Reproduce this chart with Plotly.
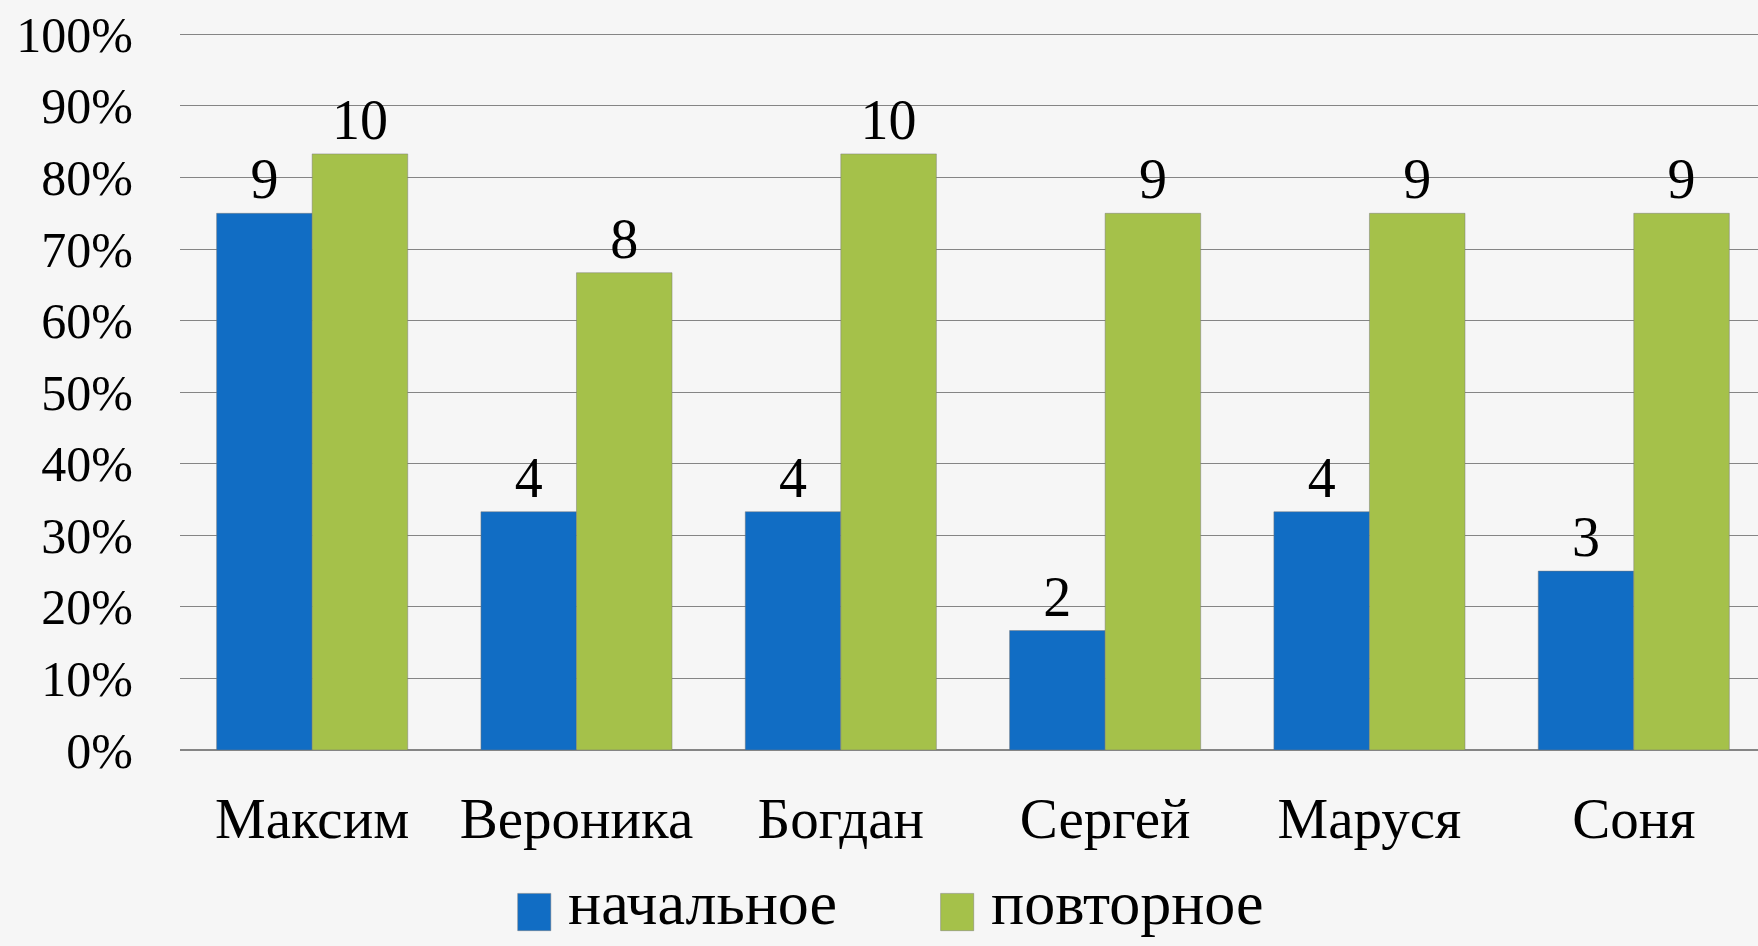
import plotly.graph_objects as go

categories = ["Максим", "Вероника", "Богдан", "Сергей", "Маруся", "Соня"]
series_names = ["начальное", "повторное"]
initial_pct = [75, 33.3, 33.3, 16.7, 33.3, 25]
repeat_pct = [83.3, 66.7, 83.3, 75, 75, 75]
initial_labels = ["9", "4", "4", "2", "4", "3"]
repeat_labels = ["10", "8", "10", "9", "9", "9"]
y_ticks = [0, 10, 20, 30, 40, 50, 60, 70, 80, 90, 100]
y_tick_text = [f"{v}%" for v in y_ticks]

BLUE = "#116DC4"
GREEN = "#A5C14A"
FONT = "Liberation Serif"
BG = "#f6f6f6"

fig = go.Figure()
for name, vals, labels, color in [
    (series_names[0], initial_pct, initial_labels, BLUE),
    (series_names[1], repeat_pct, repeat_labels, GREEN),
]:
    fig.add_trace(go.Bar(
        x=categories, y=vals, name=name, text=labels,
        textposition="outside", cliponaxis=False,
        textfont=dict(family=FONT, size=56, color="black"),
        marker=dict(color=color, line=dict(width=0.8, color="rgba(120,120,120,0.6)")),
        showlegend=False,
    ))

fig.update_layout(
    width=1758, height=946,
    margin=dict(l=180, r=0, t=33, b=196),
    paper_bgcolor=BG, plot_bgcolor=BG,
    barmode="group", bargap=0.277, bargroupgap=0,
    font=dict(family=FONT, color="black"),
)
fig.update_xaxes(
    range=[-0.5, 5.47], showgrid=False, zeroline=False,
    showline=False, ticks="", ticklabelstandoff=30,
    tickfont=dict(family=FONT, size=57, color="black"),
)
fig.update_yaxes(
    range=[0, 100.2], tickvals=y_ticks, ticktext=y_tick_text,
    showgrid=True, gridcolor="#858585", gridwidth=1.3,
    zeroline=True, zerolinecolor="#858585", zerolinewidth=1.5,
    ticks="", ticklabelstandoff=46,
    tickfont=dict(family=FONT, size=50, color="black"),
)

# legend drawn in paper coordinates below the plot
legend_items = [(series_names[0], BLUE, 0.214), (series_names[1], GREEN, 0.482)]
for name, color, x0 in legend_items:
    fig.add_shape(type="rect", xref="paper", yref="paper",
                  x0=x0, x1=x0 + 0.021, y0=-0.200, y1=-0.252,
                  fillcolor=color, line=dict(width=0.8, color="rgba(120,120,120,0.6)"))
    fig.add_annotation(xref="paper", yref="paper", x=x0 + 0.031, y=-0.214,
                       xanchor="left", yanchor="middle", showarrow=False,
                       borderpad=0,
                       text=name, font=dict(family=FONT, size=62, color="black"))

fig.write_html(
    "out.html",
    config={"displayModeBar": False},
    post_script="document.body.style.margin='0';document.body.style.background='#f6f6f6';",
)
